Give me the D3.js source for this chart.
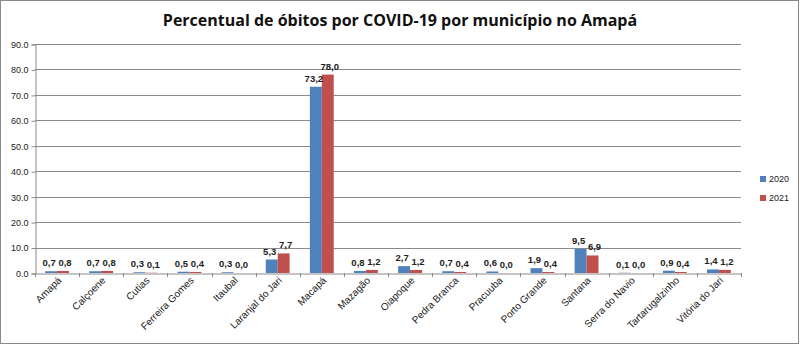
<!DOCTYPE html>
<html><head><meta charset="utf-8">
<script src="https://cdn.jsdelivr.net/npm/d3@7"></script>
<style>body{margin:0;background:#fff}svg{display:block}</style>
</head><body>
<svg id="c" width="800" height="347"></svg>
<script>
const categories = ["Amapá","Calçoene","Cutias","Ferreira Gomes","Itaubal","Laranjal do Jari","Macapá","Mazagão","Oiapoque","Pedra Branca","Pracuuba","Porto Grande","Santana","Serra do Navio","Tartarugalzinho","Vitória do Jari"];
const series2020 = [0.7,0.7,0.3,0.5,0.3,5.3,73.2,0.8,2.7,0.7,0.6,1.9,9.5,0.1,0.9,1.4];
const series2021 = [0.8,0.8,0.1,0.4,0.0,7.7,78.0,1.2,1.2,0.4,0.0,0.4,6.9,0.0,0.4,1.2];
const seriesNames = ["2020","2021"];
const yTicks = [0,10,20,30,40,50,60,70,80,90];
const colors = ["#4F81BD","#C0504D"];

const svg = d3.select("#c");
const W=800,H=347;
const m={l:35,r:741,t:44,b:273};
svg.append("rect").attr("x",0.5).attr("y",0.5).attr("width",W-2).attr("height",H-4).attr("fill","#fff").attr("stroke","#888");

const x = d3.scaleBand().domain(categories).range([m.l,m.r]);
const xs = d3.scaleBand().domain(seriesNames).range([0,x.bandwidth()]).paddingOuter(0.85).paddingInner(0);
const y = d3.scaleLinear().domain([0,90]).range([m.b,m.t]);

// gridlines
svg.append("g").selectAll("line").data(yTicks.slice(1)).join("line")
  .attr("x1",m.l).attr("x2",m.r).attr("y1",d=>Math.round(y(d))+0.5).attr("y2",d=>Math.round(y(d))+0.5)
  .attr("stroke","#8a8a8a").attr("stroke-width",1);

// y axis
const ya = svg.append("g").attr("transform",`translate(${m.l+0.5},0.5)`)
  .call(d3.axisLeft(y).tickValues(yTicks).tickFormat(d=>d3.format(".1f")(d)).tickSize(4).tickPadding(3));
ya.select(".domain").attr("stroke","#8a8a8a");
ya.selectAll(".tick line").attr("stroke","#8a8a8a");
ya.selectAll("text").attr("font-family","Liberation Sans, Arial, sans-serif").attr("font-size",9).attr("fill","#222");

// bars
const data = [series2020, series2021];
const g = svg.append("g");
categories.forEach((c,i)=>{
  data.forEach((s,k)=>{
    const v=s[i];
    g.append("rect").attr("x",x(c)+xs(seriesNames[k])).attr("width",xs.bandwidth())
      .attr("y",y(v)).attr("height",y(0)-y(v)).attr("fill",colors[k]);
  });
});

// x axis
const xa = svg.append("g").attr("transform",`translate(0.5,${m.b+0.5})`)
  .call(d3.axisBottom(x).tickSize(0).tickFormat(""));
xa.select(".domain").attr("stroke","#8a8a8a");
// category boundary ticks
svg.append("g").selectAll("line").data(d3.range(categories.length+1)).join("line")
  .attr("x1",i=>Math.round(m.l+i*x.step())+0.5).attr("x2",i=>Math.round(m.l+i*x.step())+0.5)
  .attr("y1",m.b).attr("y2",m.b+4).attr("stroke","#8a8a8a");

// x labels rotated
svg.append("g").selectAll("text").data(categories).join("text")
  .attr("transform",d=>`translate(${x(d)+x.bandwidth()/2+5},${m.b+8}) rotate(-45)`)
  .attr("text-anchor","end").attr("font-family","Liberation Sans, Arial, sans-serif")
  .attr("font-size",10).attr("fill","#222").text(d=>d);

// data labels
const fmt = v=>d3.format(".1f")(v).replace(".",",");
categories.forEach((c,i)=>{
  data.forEach((s,k)=>{
    const v=s[i];
    svg.append("text").attr("x",x(c)+xs(seriesNames[k])+xs.bandwidth()/2 + (k===0?-2:2))
      .attr("y",y(v)-5).attr("text-anchor","middle")
      .attr("font-family","Liberation Sans, Arial, sans-serif").attr("font-weight","bold")
      .attr("font-size",9.5).attr("fill","#222").text(fmt(v));
  });
});

// legend
const lg = svg.append("g").attr("transform","translate(760,176)");
seriesNames.forEach((n,k)=>{
  lg.append("rect").attr("x",0).attr("y",k*19).attr("width",6).attr("height",6).attr("fill",colors[k]);
  lg.append("text").attr("x",9).attr("y",k*19+6).attr("font-family","Liberation Sans, Arial, sans-serif")
    .attr("font-size",9).attr("fill","#222").text(n);
});

// title
svg.append("text").attr("x",400).attr("y",26).attr("text-anchor","middle")
  .attr("font-family","Open Sans, Liberation Sans, sans-serif").attr("font-weight","bold")
  .attr("font-size",16).attr("fill","#111").text("Percentual de óbitos por COVID-19 por município no Amapá");
</script>
</body></html>
